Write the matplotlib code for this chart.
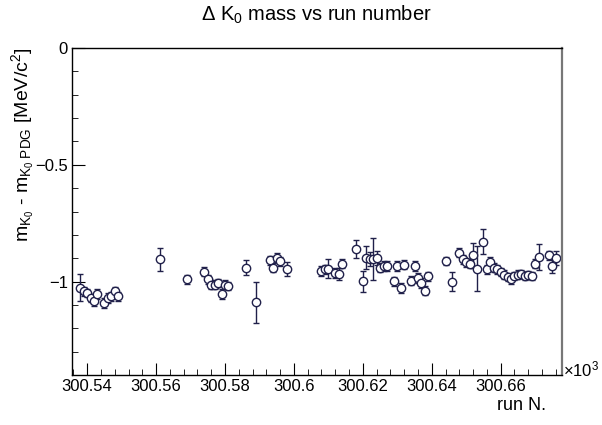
import matplotlib
matplotlib.use("Agg")
import matplotlib.pyplot as plt
from matplotlib.ticker import MultipleLocator, FuncFormatter

plt.rcParams['font.family'] = ['Liberation Sans', 'DejaVu Sans']
plt.rcParams['mathtext.fontset'] = 'custom'
plt.rcParams['mathtext.rm'] = 'Liberation Sans'
plt.rcParams['mathtext.it'] = 'Liberation Sans'
plt.rcParams['mathtext.bf'] = 'Liberation Sans:bold'

# data (run number, delta mass, error)
runs = [300538, 300539, 300540, 300541, 300542, 300543, 300545, 300546, 300547, 300548,
        300549, 300561, 300569, 300574, 300575, 300576, 300577, 300578, 300579, 300580,
        300581, 300586, 300589, 300593, 300594, 300595, 300596, 300598, 300608, 300609,
        300610, 300612, 300613, 300614, 300618, 300620, 300621, 300622, 300623, 300624,
        300625, 300626, 300627, 300629, 300630, 300631, 300632, 300634, 300635, 300636,
        300637, 300638, 300639, 300644, 300646, 300648, 300649, 300650, 300651, 300652,
        300653, 300655, 300656, 300657, 300658, 300659, 300660, 300661, 300662, 300663,
        300664, 300665, 300666, 300667, 300668, 300669, 300670, 300671, 300674, 300675,
        300676]
dmass = [-1.027, -1.042, -1.049, -1.070, -1.085, -1.053, -1.092, -1.070, -1.063, -1.042,
         -1.063, -0.905, -0.991, -0.958, -0.991, -1.013, -1.013, -1.006, -1.053, -1.013,
         -1.020, -0.941, -1.089, -0.909, -0.941, -0.898, -0.914, -0.947, -0.955, -0.948,
         -0.945, -0.963, -0.967, -0.924, -0.862, -0.999, -0.898, -0.905, -0.905, -0.898,
         -0.941, -0.934, -0.934, -0.999, -0.934, -1.027, -0.927, -0.996, -0.934, -0.984,
         -1.006, -1.039, -0.977, -0.912, -1.001, -0.876, -0.905, -0.918, -0.924, -0.887,
         -0.945, -0.829, -0.948, -0.915, -0.941, -0.948, -0.958, -0.970, -0.981, -0.991,
         -0.977, -0.970, -0.967, -0.977, -0.973, -0.977, -0.924, -0.895, -0.887, -0.934,
         -0.898]
derr = [0.058, 0.020, 0.018, 0.018, 0.020, 0.020, 0.020, 0.020, 0.020, 0.020,
        0.020, 0.048, 0.018, 0.020, 0.020, 0.018, 0.018, 0.018, 0.020, 0.018,
        0.018, 0.032, 0.088, 0.020, 0.020, 0.020, 0.020, 0.030, 0.020, 0.020,
        0.040, 0.020, 0.025, 0.020, 0.039, 0.045, 0.050, 0.030, 0.090, 0.030,
        0.020, 0.020, 0.020, 0.020, 0.020, 0.020, 0.020, 0.020, 0.020, 0.020,
        0.020, 0.020, 0.020, 0.018, 0.041, 0.020, 0.020, 0.020, 0.020, 0.054,
        0.097, 0.052, 0.020, 0.020, 0.020, 0.020, 0.018, 0.018, 0.018, 0.018,
        0.018, 0.018, 0.018, 0.018, 0.018, 0.018, 0.020, 0.056, 0.020, 0.030,
        0.030]

col = '#20204a'

fig = plt.figure(figsize=(6.02, 4.25), dpi=100)
ax = fig.add_axes([72/602, 1-375/425, 490/602, 327/425])

ax.errorbar(runs, dmass, yerr=derr, fmt='o', mfc='white', mec=col, color=col,
            ms=6, mew=1.0, elinewidth=1.0, capsize=2, capthick=1.0)

ax.set_xlim(300535.6, 300677.8)
ax.set_ylim(-1.4, 0)


def fmt_y(v, p):
    s = '%g' % v
    return s.replace('-', '\u2212') if v != 0 else '0'


ax.xaxis.set_major_locator(MultipleLocator(20))
ax.xaxis.set_minor_locator(MultipleLocator(4))
ax.xaxis.set_major_formatter(FuncFormatter(lambda v, p: '%g' % (v / 1000)))
ax.yaxis.set_major_locator(MultipleLocator(0.5))
ax.yaxis.set_minor_locator(MultipleLocator(0.1))
ax.yaxis.set_major_formatter(FuncFormatter(fmt_y))

ax.tick_params(which='both', direction='in', top=False, right=False, labelsize=12,
               colors='black')
ax.tick_params(axis='y', which='major', length=9, pad=3)
ax.tick_params(axis='y', which='minor', length=4.5)
ax.tick_params(axis='x', which='major', length=9, pad=3)
ax.tick_params(axis='x', which='minor', length=4.5)

for s in ['left', 'bottom', 'top']:
    ax.spines[s].set_linewidth(1.0)
ax.spines['right'].set_color('#777777')
ax.spines['right'].set_linewidth(1.6)

fig.text(316/602, 1-15/425, r'$\Delta$ K$_{0}$ mass vs run number', ha='center',
         va='center', fontsize=14.5)
fig.text(22/602, 1-48/425, r'm$_{K_{0}}$ - m$_{K_{0}\ PDG}$ [MeV/c$^{2}$]',
         rotation=90, ha='center', va='top', fontsize=14)
fig.text(546/602, 1-405/425, 'run N.', ha='right', va='center', fontsize=13)
fig.text(563/602, 1-369/425, r'$\times$10$^{3}$', ha='left', va='center', fontsize=12)

fig.savefig('out.png', dpi=100)
